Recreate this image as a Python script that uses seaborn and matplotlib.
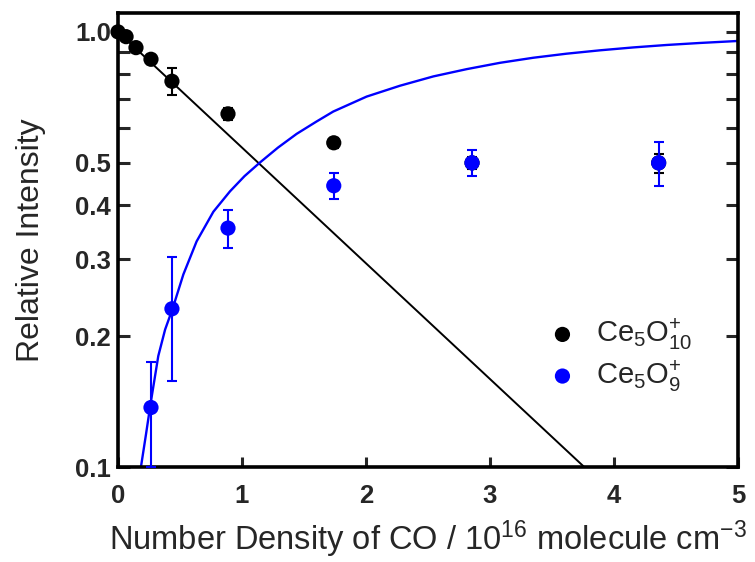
import matplotlib
matplotlib.use("Agg")
import matplotlib.pyplot as plt
import seaborn as sns
import pandas as pd
from matplotlib.ticker import FixedLocator, FixedFormatter, NullLocator

# ---- data ----
o10_x = [0.0, 0.065, 0.145, 0.266, 0.435, 0.887, 1.74, 2.855, 4.36]
o10_y = [1.0, 0.975, 0.92, 0.865, 0.77, 0.648, 0.556, 0.50, 0.50]
o10_err = [0.01, 0.01, 0.012, 0.02, 0.055, 0.02, 0.015, 0.015, 0.025]

o9_x = [0.266, 0.435, 0.887, 1.74, 2.855, 4.36]
o9_y = [0.137, 0.231, 0.354, 0.443, 0.50, 0.50]
o9_err = [0.037, 0.073, 0.035, 0.030, 0.034, 0.058]

# fitted curves
fit10_x = [0.0, 3.76]
fit10_y = [1.0, 0.1]
fit9_x = [0.185, 0.226, 0.263, 0.325, 0.38, 0.44, 0.527, 0.634, 0.769, 0.903,
          1.02, 1.145, 1.29, 1.441, 1.60, 1.736, 2.005, 2.274, 2.543, 2.812,
          3.081, 3.349, 3.618, 3.887, 4.156, 4.425, 4.694, 5.0]
fit9_y = [0.100, 0.119, 0.140, 0.180, 0.207, 0.231, 0.277, 0.330, 0.386, 0.430,
          0.466, 0.501, 0.542, 0.583, 0.622, 0.656, 0.710, 0.752, 0.790, 0.821,
          0.849, 0.872, 0.891, 0.907, 0.921, 0.933, 0.943, 0.953]

yticks = [0.1, 0.2, 0.3, 0.4, 0.5, 0.6, 0.7, 0.8, 0.9, 1.0]
ytick_labels = ["0.1", "0.2", "0.3", "0.4", "0.5", "", "", "", "", "1.0"]
xticks = [0, 1, 2, 3, 4, 5]

sns.set_theme(style="ticks")
plt.rcParams["font.family"] = ["Liberation Sans", "DejaVu Sans"]
plt.rcParams["mathtext.fontset"] = "custom"
plt.rcParams["mathtext.rm"] = "Liberation Sans"
plt.rcParams["mathtext.it"] = "Liberation Sans:italic"
plt.rcParams["mathtext.bf"] = "Liberation Sans:bold"

fig = plt.figure(figsize=(7.55, 5.62), dpi=100)
ax = fig.add_axes([118 / 755, 1 - 467 / 562, 620 / 755, (467 - 13) / 562])

BLUE = "#0000ff"

df10 = pd.DataFrame({"x": o10_x, "y": o10_y})
df9 = pd.DataFrame({"x": o9_x, "y": o9_y})

ax.set_yscale("log")

sns.lineplot(x=fit10_x, y=fit10_y, ax=ax, color="black", lw=1.4, zorder=2)
sns.lineplot(x=fit9_x, y=fit9_y, ax=ax, color=BLUE, lw=1.7, zorder=2)

ax.errorbar(o10_x, o10_y, yerr=o10_err, fmt="none", ecolor="black",
            elinewidth=1.5, capsize=3.6, capthick=1.5, zorder=3)
sns.scatterplot(data=df10, x="x", y="y", ax=ax, color="black", s=120,
                edgecolor="none", zorder=4, clip_on=False,
                label=r"Ce$_5$O$_{10}^{+}$")
ax.errorbar(o9_x, o9_y, yerr=o9_err, fmt="none", ecolor=BLUE,
            elinewidth=1.5, capsize=3.6, capthick=1.5, zorder=5)
sns.scatterplot(data=df9, x="x", y="y", ax=ax, color=BLUE, s=120,
                edgecolor="none", zorder=6, clip_on=False,
                label=r"Ce$_5$O$_{9}^{+}$")

ax.set_xlim(0, 5)
ax.set_ylim(0.1, 1.105)

ax.yaxis.set_major_locator(FixedLocator(yticks))
ax.yaxis.set_major_formatter(FixedFormatter(ytick_labels))
ax.yaxis.set_minor_locator(NullLocator())
ax.xaxis.set_major_locator(FixedLocator(xticks))
ax.xaxis.set_minor_locator(NullLocator())

ax.tick_params(axis="both", direction="in", width=2.2, labelsize=18.5)
ax.tick_params(axis="y", right=True, left=True, length=8.5, pad=5)
ax.tick_params(axis="x", length=7, pad=12)
for lab in ax.get_xticklabels() + ax.get_yticklabels():
    lab.set_fontweight("bold")

for sp in ax.spines.values():
    sp.set_linewidth(2.6)
    sp.set_visible(True)
    sp.set_color("black")

ax.set_xlabel(r"Number Density of CO / 10$^{16}$ molecule cm$^{-3}$", fontsize=23.5, labelpad=8)
ax.set_ylabel("Relative Intensity", fontsize=23, labelpad=21)

leg = ax.legend(loc="center left", bbox_to_anchor=(0.651, 0.2467), frameon=False,
                fontsize=21, handlelength=1.0, handletextpad=0.65,
                labelspacing=0.2, markerscale=1.0)

fig.savefig("out.png", dpi=100)
